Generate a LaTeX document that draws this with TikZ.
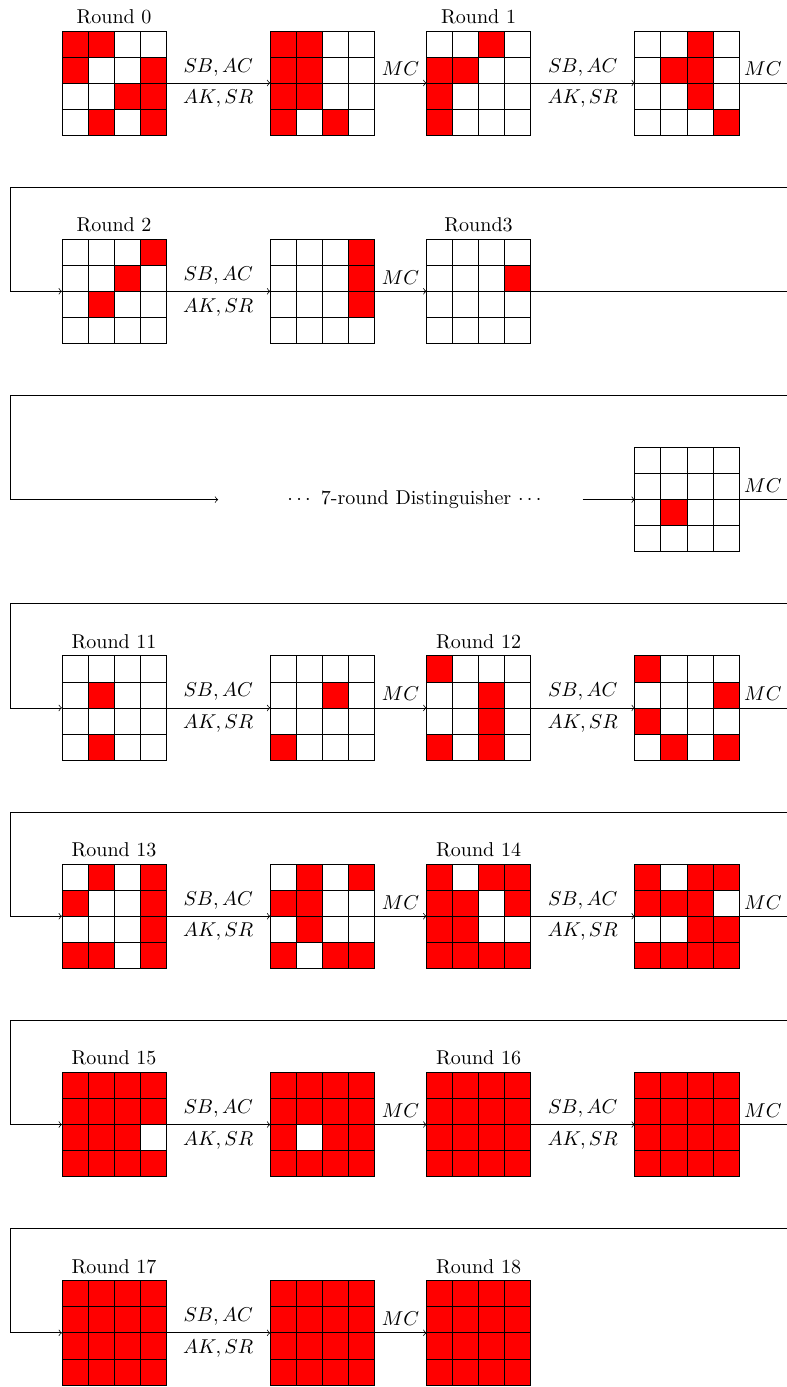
\documentclass[tikz,border=0pt,11pt]{standalone}
\usepackage{amsmath,amssymb}
\usepackage{xcolor}
\usetikzlibrary{calc}

\tikzset{gridbox/.style={minimum size=2cm, inner sep=0pt, outer sep=0pt}}

% name, centre x, centre y, 16 cell values (row by row, 1 = red)
\newcommand{\stategrid}[4]{%
  \node[gridbox] (#1) at (#2,#3) {};
  \foreach \v [count=\k from 0] in {#4}{%
    \pgfmathtruncatemacro{\cx}{mod(\k,4)}%
    \pgfmathtruncatemacro{\cy}{div(\k,4)}%
    \ifnum\v=1 \fill[red] ($(#1.north west)+(0.5*\cx,-0.5*\cy)$) rectangle ++(0.5,-0.5);\fi
  }%
  \draw (#1.south west) rectangle (#1.north east);
  \foreach \i in {1,2,3}{%
    \draw ($(#1.south west)+(0.5*\i,0)$) -- ++(0,2);
    \draw ($(#1.south west)+(0,0.5*\i)$) -- ++(2,0);
  }%
}

\begin{document}
\begin{tikzpicture}
\useasboundingbox (-1.19,-25.04) rectangle (13.92,1.594);
%
\stategrid{g0}{1}{0}{1,1,0,0, 1,0,0,1, 0,0,1,1, 0,1,0,1}
\stategrid{g1}{5}{0}{1,1,0,0, 1,1,0,0, 1,1,0,0, 1,0,1,0}
\stategrid{g2}{8}{0}{0,0,1,0, 1,1,0,0, 1,0,0,0, 1,0,0,0}
\stategrid{g3}{12}{0}{0,0,1,0, 0,1,1,0, 0,0,1,0, 0,0,0,1}
\node at (g0.north)[anchor=south]{Round 0};
\node at (g2.north)[anchor=south]{Round 1};
\coordinate (e0) at (13.92,0);
\draw[->] (g0)--(g1) node[midway,above]{$SB,AC$} node[midway,below]{$AK,SR$};
\draw[->] (g1)--(g2) node[midway,above]{$MC$};
\draw[->] (g2)--(g3) node[midway,above]{$SB,AC$} node[midway,below]{$AK,SR$};
\draw (g3)--(e0) node[midway,above]{$MC$};
%
\stategrid{g4}{1}{-4}{0,0,0,1, 0,0,1,0, 0,1,0,0, 0,0,0,0}
\stategrid{g5}{5}{-4}{0,0,0,1, 0,0,0,1, 0,0,0,1, 0,0,0,0}
\stategrid{g6}{8}{-4}{0,0,0,0, 0,0,0,1, 0,0,0,0, 0,0,0,0}
\node at (g4.north)[anchor=south]{Round 2};
\node at (g6.north)[anchor=south]{Round3};
\coordinate (w1) at (13.92,-2);
\coordinate (e1) at (13.92,-4);
\draw[->] (w1) -| (-1,-4) -- (g4);
\draw[->] (g4)--(g5) node[midway,above]{$SB,AC$} node[midway,below]{$AK,SR$};
\draw[->] (g5)--(g6) node[midway,above]{$MC$};
\draw (g6)--(e1);
%
\stategrid{g7}{12}{-8}{0,0,0,0, 0,0,0,0, 0,1,0,0, 0,0,0,0}
\node (dist) at (6.8,-8){$\cdots$ 7-round Distinguisher $\cdots$};
\coordinate (w2) at (13.92,-6);
\coordinate (d1) at (3,-8);
\coordinate (d2) at (10,-8);
\coordinate (e2) at (13.92,-8);
\draw[->] (w2) -| (-1,-8) -- (d1);
\draw[->] (d2)--(g7);
\draw (g7)--(e2) node[midway,above]{$MC$};
%
\stategrid{g8}{1}{-12}{0,0,0,0, 0,1,0,0, 0,0,0,0, 0,1,0,0}
\stategrid{g9}{5}{-12}{0,0,0,0, 0,0,1,0, 0,0,0,0, 1,0,0,0}
\stategrid{g10}{8}{-12}{1,0,0,0, 0,0,1,0, 0,0,1,0, 1,0,1,0}
\stategrid{g11}{12}{-12}{1,0,0,0, 0,0,0,1, 1,0,0,0, 0,1,0,1}
\node at (g8.north)[anchor=south]{Round 11};
\node at (g10.north)[anchor=south]{Round 12};
\coordinate (w3) at (13.92,-10);
\coordinate (e3) at (13.92,-12);
\draw[->] (w3) -| (-1,-12) -- (g8);
\draw[->] (g8)--(g9) node[midway,above]{$SB,AC$} node[midway,below]{$AK,SR$};
\draw[->] (g9)--(g10) node[midway,above]{$MC$};
\draw[->] (g10)--(g11) node[midway,above]{$SB,AC$} node[midway,below]{$AK,SR$};
\draw (g11)--(e3) node[midway,above]{$MC$};
%
\stategrid{g12}{1}{-16}{0,1,0,1, 1,0,0,1, 0,0,0,1, 1,1,0,1}
\stategrid{g13}{5}{-16}{0,1,0,1, 1,1,0,0, 0,1,0,0, 1,0,1,1}
\stategrid{g14}{8}{-16}{1,0,1,1, 1,1,0,1, 1,1,0,0, 1,1,1,1}
\stategrid{g15}{12}{-16}{1,0,1,1, 1,1,1,0, 0,0,1,1, 1,1,1,1}
\node at (g12.north)[anchor=south]{Round 13};
\node at (g14.north)[anchor=south]{Round 14};
\coordinate (w4) at (13.92,-14);
\coordinate (e4) at (13.92,-16);
\draw[->] (w4) -| (-1,-16) -- (g12);
\draw[->] (g12)--(g13) node[midway,above]{$SB,AC$} node[midway,below]{$AK,SR$};
\draw[->] (g13)--(g14) node[midway,above]{$MC$};
\draw[->] (g14)--(g15) node[midway,above]{$SB,AC$} node[midway,below]{$AK,SR$};
\draw (g15)--(e4) node[midway,above]{$MC$};
%
\stategrid{g16}{1}{-20}{1,1,1,1, 1,1,1,1, 1,1,1,0, 1,1,1,1}
\stategrid{g17}{5}{-20}{1,1,1,1, 1,1,1,1, 1,0,1,1, 1,1,1,1}
\stategrid{g18}{8}{-20}{1,1,1,1, 1,1,1,1, 1,1,1,1, 1,1,1,1}
\stategrid{g19}{12}{-20}{1,1,1,1, 1,1,1,1, 1,1,1,1, 1,1,1,1}
\node at (g16.north)[anchor=south]{Round 15};
\node at (g18.north)[anchor=south]{Round 16};
\coordinate (w5) at (13.92,-18);
\coordinate (e5) at (13.92,-20);
\draw[->] (w5) -| (-1,-20) -- (g16);
\draw[->] (g16)--(g17) node[midway,above]{$SB,AC$} node[midway,below]{$AK,SR$};
\draw[->] (g17)--(g18) node[midway,above]{$MC$};
\draw[->] (g18)--(g19) node[midway,above]{$SB,AC$} node[midway,below]{$AK,SR$};
\draw (g19)--(e5) node[midway,above]{$MC$};
%
\stategrid{g20}{1}{-24}{1,1,1,1, 1,1,1,1, 1,1,1,1, 1,1,1,1}
\stategrid{g21}{5}{-24}{1,1,1,1, 1,1,1,1, 1,1,1,1, 1,1,1,1}
\stategrid{g22}{8}{-24}{1,1,1,1, 1,1,1,1, 1,1,1,1, 1,1,1,1}
\node at (g20.north)[anchor=south]{Round 17};
\node at (g22.north)[anchor=south]{Round 18};
\coordinate (w6) at (13.92,-22);
\draw[->] (w6) -| (-1,-24) -- (g20);
\draw[->] (g20)--(g21) node[midway,above]{$SB,AC$} node[midway,below]{$AK,SR$};
\draw[->] (g21)--(g22) node[midway,above]{$MC$};
%
\end{tikzpicture}
\end{document}
